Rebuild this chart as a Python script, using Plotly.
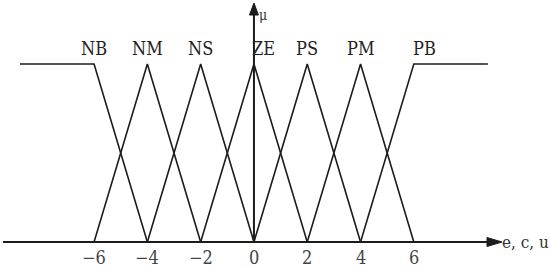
import plotly.graph_objects as go

# ---- data ----
set_names = ["NB", "NM", "NS", "ZE", "PS", "PM", "PB"]
set_centers = [-6, -4, -2, 0, 2, 4, 6]
label_x = [-6.02, -4, -2, 0.37, 2, 4, 6.4]
half_width = 2
universe_edge = 8.78
tick_vals = [-6, -4, -2, 0, 2, 4, 6]
tick_text = ["\u22126", "\u22124", "\u22122", "0", "2", "4", "6"]
x_axis_title = "e, c, u"
y_axis_title = "\u03bc"

# axis extents (data units)
x_axis_start, x_axis_tip = -9.42, 9.31
y_axis_tip = 1.343

FONT = "DejaVu Serif Condensed, Liberation Serif, serif"
LINE = "#1c1c1c"

fig = go.Figure()

n = len(set_centers)
for i, (name, c) in enumerate(zip(set_names, set_centers)):
    if i == 0:
        xs = [-universe_edge, c, c + half_width]
        ys = [1, 1, 0]
    elif i == n - 1:
        xs = [c - half_width, c, universe_edge]
        ys = [0, 1, 1]
    else:
        xs = [c - half_width, c, c + half_width]
        ys = [0, 1, 0]
    fig.add_trace(go.Scatter(x=xs, y=ys, mode="lines",
                             line=dict(color=LINE, width=1.6),
                             showlegend=False, hoverinfo="skip"))

annotations = []
for name, lx in zip(set_names, label_x):
    annotations.append(dict(x=lx, y=1.087, text=name, showarrow=False,
                            font=dict(family=FONT, size=18, color="#222"),
                            xanchor="center", yanchor="middle"))
for tv, tt in zip(tick_vals, tick_text):
    annotations.append(dict(x=tv, y=-0.088, text=tt, showarrow=False,
                            font=dict(family=FONT, size=18, color="#444"),
                            xanchor="center", yanchor="middle"))
annotations.append(dict(x=10.2, y=0.0, text=x_axis_title, showarrow=False,
                        font=dict(family=FONT, size=17, color="#333"),
                        xanchor="center", yanchor="middle"))
annotations.append(dict(x=0.33, y=1.275, text=y_axis_title, showarrow=False,
                        font=dict(family=FONT, size=14, color="#333"),
                        xanchor="center", yanchor="middle"))

shapes = [
    # horizontal axis
    dict(type="line", xref="x", yref="y", x0=x_axis_start, y0=0, x1=x_axis_tip - 0.3, y1=0,
         line=dict(color=LINE, width=2)),
    # vertical axis
    dict(type="line", xref="x", yref="y", x0=0, y0=0, x1=0, y1=y_axis_tip - 0.03,
         line=dict(color=LINE, width=2)),
    # arrowheads (pixel-sized, anchored at the axis tips)
    dict(type="path", xref="x", yref="y", xsizemode="pixel", ysizemode="pixel",
         xanchor=x_axis_tip, yanchor=0, path="M0,0 L-15,4.5 L-15,-4.5 Z",
         fillcolor=LINE, line=dict(color=LINE, width=1)),
    dict(type="path", xref="x", yref="y", xsizemode="pixel", ysizemode="pixel",
         xanchor=0, yanchor=y_axis_tip, path="M0,0 L-4.5,-12 L4.5,-12 Z",
         fillcolor=LINE, line=dict(color=LINE, width=1)),
]

fig.update_layout(
    width=550, height=268, autosize=False,
    margin=dict(l=0, r=0, t=0, b=0),
    paper_bgcolor="white", plot_bgcolor="white",
    xaxis=dict(range=[-9.53, 11.11], visible=False, fixedrange=True),
    yaxis=dict(range=[-0.146, 1.36], visible=False, fixedrange=True),
    annotations=annotations,
    shapes=shapes,
)

fig.write_html("out.html", config={"displayModeBar": False},
               post_script="document.body.style.margin='0px';document.body.style.overflow='hidden';")
